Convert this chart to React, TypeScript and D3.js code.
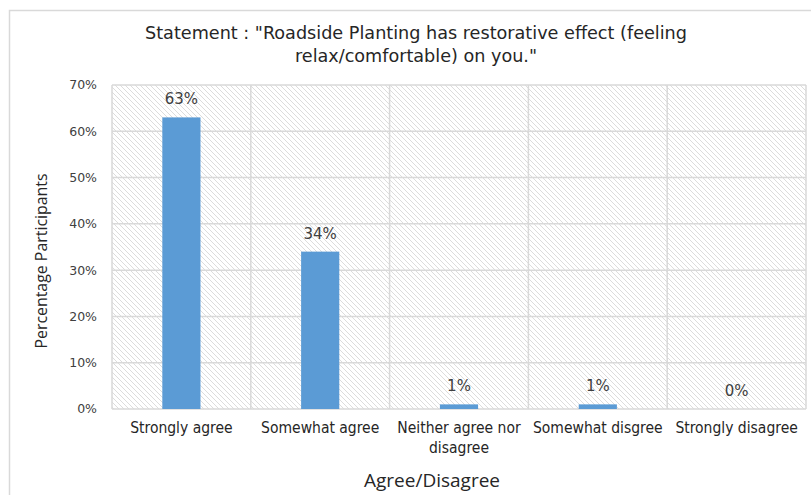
import React from "react";
import * as d3 from "d3";

// Survey responses: share of participants per answer
const categories: string[][] = [
  ["Strongly agree"],
  ["Somewhat agree"],
  ["Neither agree nor", "disagree"],
  ["Somewhat disgree"],
  ["Strongly disagree"],
];
const shares: number[] = [0.63, 0.34, 0.01, 0.01, 0];
const valueLabels: string[] = ["63%", "34%", "1%", "1%", "0%"];
const yTicks: number[] = [0, 0.1, 0.2, 0.3, 0.4, 0.5, 0.6, 0.7];
const titleLines: string[] = [
  'Statement : "Roadside Planting has  restorative effect (feeling',
  'relax/comfortable) on you."',
];
const titleWidths: number[] = [542, 242];

const W = 811;
const H = 495;
const plot = { left: 112, right: 806, top: 85, bottom: 409 };

export default function App() {
  const x = d3
    .scaleBand<number>()
    .domain(d3.range(categories.length))
    .range([plot.left, plot.right])
    .paddingInner(0)
    .paddingOuter(0);
  const y = d3.scaleLinear().domain([0, 0.7]).range([plot.bottom, plot.top]);
  const barW = x.bandwidth() * 0.275;
  const fmt = d3.format(".0%");

  const grid = "#d9d9d9";
  const textFont = "'Open Sans', sans-serif";
  const narrowFont = "'DejaVu Sans Condensed', 'DejaVu Sans', sans-serif";

  return (
    <svg
      width={W}
      height={H}
      style={{ position: "absolute", left: 0, top: 0, background: "#fff" }}
    >
      <defs>
        <pattern id="hatch" patternUnits="userSpaceOnUse" width={5} height={5}>
          <path
            d="M0,0 L5,5 M-1,4 L1,6 M4,-1 L6,1"
            stroke="#dcdcdc"
            strokeWidth={1}
          />
        </pattern>
      </defs>

      {/* chart frame */}
      <path d={`M9.5,${H} V10.5 H${W}`} fill="none" stroke={grid} strokeWidth={1.5} />

      {/* title */}
      {titleLines.map((t, i) => (
        <text
          key={i}
          x={416 - titleWidths[i] / 2}
          y={39 + i * 23}
          textLength={titleWidths[i]}
          lengthAdjust="spacingAndGlyphs"
          fontFamily={narrowFont}
          fontSize={17.5}
          fill="#262626"
        >
          {t}
        </text>
      ))}

      {/* hatched plot background */}
      <rect
        x={plot.left}
        y={plot.top}
        width={plot.right - plot.left}
        height={plot.bottom - plot.top}
        fill="url(#hatch)"
      />

      {/* horizontal gridlines */}
      {yTicks.map((t) => (
        <line
          key={t}
          x1={plot.left}
          x2={plot.right}
          y1={y(t)}
          y2={y(t)}
          stroke={grid}
          strokeWidth={1.5}
        />
      ))}
      {/* vertical category dividers */}
      {d3.range(categories.length + 1).map((i) => {
        const xv = i < categories.length ? x(i)! : plot.right;
        return (
          <line
            key={i}
            x1={xv}
            x2={xv}
            y1={plot.top}
            y2={plot.bottom}
            stroke={grid}
            strokeWidth={1.5}
          />
        );
      })}

      {/* y tick labels */}
      {yTicks.map((t) => (
        <text
          key={t}
          x={97}
          y={y(t)}
          dy="0.35em"
          textAnchor="end"
          fontFamily="'DejaVu Sans', sans-serif"
          fontSize={12.5}
          fill="#404040"
        >
          {fmt(t)}
        </text>
      ))}

      {/* bars */}
      {shares.map((v, i) => {
        const cx = x(i)! + x.bandwidth() / 2;
        return (
          <g key={i}>
            {v > 0 && (
              <rect
                x={cx - barW / 2}
                y={y(v)}
                width={barW}
                height={y(0) - y(v)}
                fill="#5b9bd5"
              />
            )}
            <text
              x={cx}
              y={y(v) - 13}
              textAnchor="middle"
              fontFamily="'DejaVu Sans', sans-serif"
              fontSize={15}
              fill="#404040"
            >
              {valueLabels[i]}
            </text>
          </g>
        );
      })}

      {/* category labels */}
      {categories.map((lines, i) => {
        const cx = x(i)! + x.bandwidth() / 2;
        return (
          <text
            key={i}
            textAnchor="middle"
            fontFamily={narrowFont}
            fontSize={15.5}
            fill="#262626"
          >
            {lines.map((l, j) => (
              <tspan key={j} x={cx} y={433 + j * 20}>
                {l}
              </tspan>
            ))}
          </text>
        );
      })}

      {/* axis titles */}
      <text
        x={432}
        y={487}
        textAnchor="middle"
        fontFamily={textFont}
        fontSize={19}
        fill="#262626"
      >
        Agree/Disagree
      </text>
      <text
        transform={`translate(47,261) rotate(-90)`}
        textAnchor="middle"
        fontFamily={textFont}
        fontSize={15.9}
        fill="#262626"
      >
        Percentage Participants
      </text>
    </svg>
  );
}
